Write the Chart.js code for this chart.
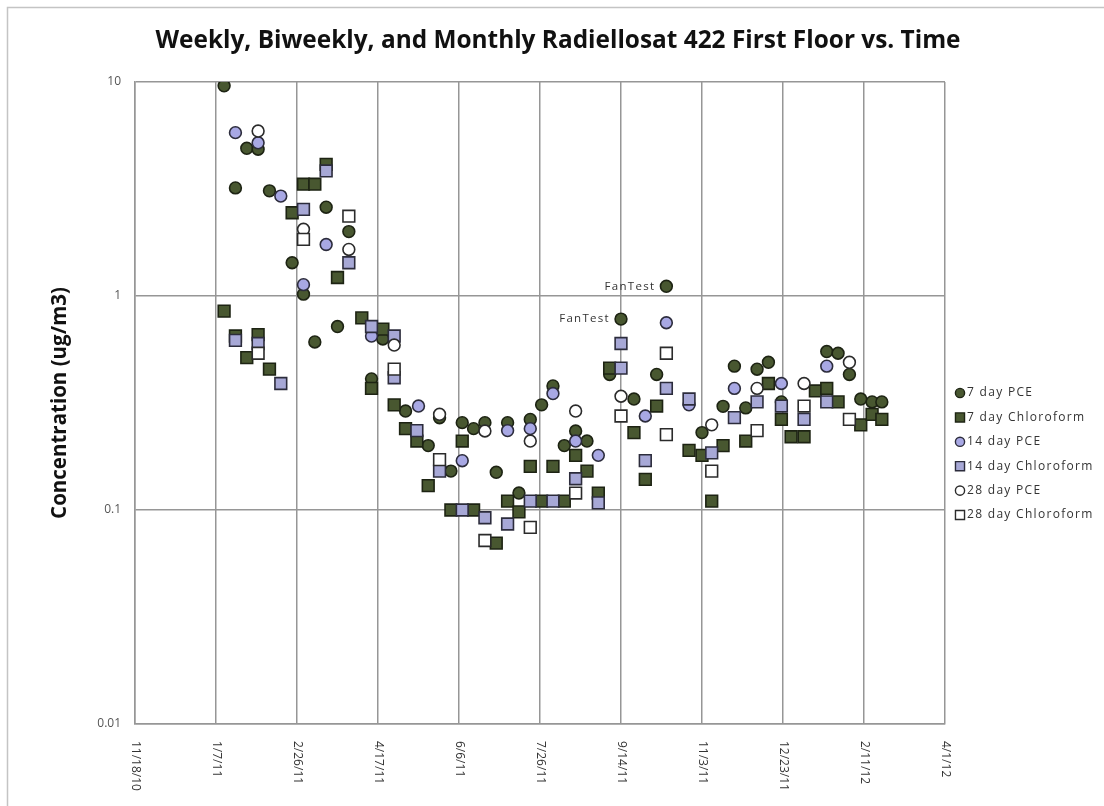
<!DOCTYPE html>
<html>
<head>
<meta charset="utf-8">
<title>Radiellos at 422 First Floor vs. Time</title>
<script src="https://cdn.jsdelivr.net/npm/chart.js@4.4.1/dist/chart.umd.min.js"></script>
<style>
    html, body { margin: 0; padding: 0; background: #fff; }
    #wrap { width: 1104px; height: 806px; }
</style>
</head>
<body>
<div id="wrap"><canvas id="radChart" width="1104" height="806"></canvas></div>
<script>
'use strict';

// 日付は Excel のシリアル値（40500 = 11/18/10）
// 7日間 PCE
const pce7Dates = [40555, 40562, 40569, 40576, 40583, 40597, 40604, 40611, 40618, 40625, 40632, 40646, 40653, 40667, 40681, 40688,
    40695, 40702, 40709, 40716, 40723, 40730, 40737, 40744, 40751, 40758, 40765, 40772, 40779, 40793, 40800, 40808,
    40822, 40828, 40850, 40863, 40870, 40877, 40884, 40891, 40899, 40927, 40934, 40941, 40948, 40955, 40961];
const pce7Values = [9.6, 3.2, 4.9, 4.85, 3.1, 1.43, 1.02, 0.61, 2.6, 0.72, 2.0, 0.41, 0.63, 0.29, 0.20, 0.27,
    0.152, 0.256, 0.24, 0.256, 0.15, 0.256, 0.12, 0.265, 0.31, 0.38, 0.20, 0.234, 0.21, 0.43, 0.78, 0.33,
    0.43, 1.11, 0.23, 0.305, 0.47, 0.30, 0.455, 0.49, 0.32, 0.55, 0.54, 0.43, 0.33, 0.32, 0.32];
// 7日間 クロロホルム
const chl7Dates = [40555, 40562, 40569, 40576, 40583, 40597, 40604, 40611, 40618, 40625, 40640, 40646, 40653, 40660, 40667, 40674,
    40681, 40695, 40702, 40709, 40723, 40730, 40737, 40744, 40751, 40758, 40765, 40772, 40779, 40786, 40793, 40808,
    40815, 40822, 40842, 40850, 40856, 40863, 40877, 40891, 40899, 40905, 40913, 40920, 40927, 40934, 40948, 40955, 40961];
const chl7Values = [0.85, 0.65, 0.515, 0.66, 0.455, 2.45, 3.33, 3.33, 4.12, 1.22, 0.79, 0.37, 0.70, 0.31, 0.24, 0.21,
    0.13, 0.10, 0.21, 0.10, 0.07, 0.11, 0.098, 0.16, 0.11, 0.16, 0.11, 0.18, 0.152, 0.12, 0.46, 0.23,
    0.139, 0.306, 0.19, 0.18, 0.11, 0.20, 0.21, 0.39, 0.265, 0.22, 0.22, 0.36, 0.37, 0.32, 0.25, 0.28, 0.265];
// 14日間 PCE
const pce14Dates = [40562, 40576, 40590, 40604, 40618, 40646, 40675, 40702, 40730, 40744, 40758, 40772, 40786, 40815, 40828, 40842,
    40870, 40899, 40927];
const pce14Values = [5.8, 5.2, 2.93, 1.13, 1.74, 0.65, 0.306, 0.17, 0.235, 0.24, 0.35, 0.21, 0.18, 0.275, 0.75, 0.31,
    0.37, 0.39, 0.47];
// 14日間 クロロホルム
const chl14Dates = [40562, 40576, 40590, 40604, 40618, 40632, 40646, 40660, 40660, 40674, 40688, 40702, 40716, 40730, 40744, 40758,
    40772, 40786, 40800, 40800, 40815, 40828, 40842, 40856, 40870, 40884, 40899, 40913, 40927];
const chl14Values = [0.62, 0.60, 0.39, 2.54, 3.84, 1.43, 0.72, 0.65, 0.415, 0.235, 0.152, 0.10, 0.092, 0.086, 0.11, 0.11,
    0.14, 0.108, 0.60, 0.46, 0.17, 0.37, 0.33, 0.185, 0.27, 0.32, 0.306, 0.265, 0.32];
// 28日間 PCE
const pce28Dates = [40576, 40604, 40632, 40660, 40688, 40716, 40744, 40772, 40800, 40856, 40884, 40913, 40941];
const pce28Values = [5.9, 2.05, 1.65, 0.59, 0.28, 0.234, 0.21, 0.29, 0.34, 0.25, 0.37, 0.39, 0.49];
// 28日間 クロロホルム
const chl28Dates = [40576, 40604, 40632, 40660, 40688, 40716, 40744, 40772, 40800, 40828, 40828, 40856, 40884, 40913, 40941];
const chl28Values = [0.54, 1.84, 2.36, 0.455, 0.172, 0.072, 0.083, 0.12, 0.275, 0.54, 0.225, 0.152, 0.235, 0.306, 0.265];

// 凡例ラベル
const seriesLabels = ['7 day PCE', '7 day Chloroform', '14 day PCE', '14 day Chloroform', '28 day PCE', '28 day Chloroform'];
// 軸の目盛
const xTickValues = [40500, 40550, 40600, 40650, 40700, 40750, 40800, 40850, 40900, 40950, 41000];
const xTickLabels = ['11/18/10', '1/7/11', '2/26/11', '4/17/11', '6/6/11', '7/26/11', '9/14/11', '11/3/11', '12/23/11', '2/11/12', '4/1/12'];
const yTickValues = [0.01, 0.1, 1, 10];
const yTickLabels = ['0.01', '0.1', '1', '10'];
// "FanTest" の注記を付ける 7日間 PCE の日付
const fanTestDates = [40800, 40828];
// グラフタイトル
const chartTitle = 'Weekly, Biweekly, and Monthly Radiellosat 422 First Floor vs. Time';

const FONT = '"Open Sans", "DejaVu Sans", sans-serif';
const GRID_COLOR = '#969696';
const DARK = '#485730';
const DARK_EDGE = '#1d2313';

/**
 * 散布図のデータセット生成
 * 後の系列ほど上に描く（Excel と同じ重なり順）
 */
function createSeries(index, dates, values, shape, fill, edge) {
    return {
        label: seriesLabels[index],
        data: dates.map((d, i) => ({ x: d, y: values[i] })),
        order: seriesLabels.length - index,
        pointStyle: shape,
        pointRadius: shape === 'rect' ? 8.3 : 5.9,
        pointHoverRadius: shape === 'rect' ? 8.3 : 5.9,
        backgroundColor: fill,
        borderColor: edge,
        pointBorderWidth: 1.6,
        showLine: false
    };
}

const datasets = [
    createSeries(0, pce7Dates, pce7Values, 'circle', DARK, DARK_EDGE),
    createSeries(1, chl7Dates, chl7Values, 'rect', DARK, DARK_EDGE),
    createSeries(2, pce14Dates, pce14Values, 'circle', '#a8a8e4', '#2c2c3c'),
    createSeries(3, chl14Dates, chl14Values, 'rect', '#a7a8d6', '#2c2c3c'),
    createSeries(4, pce28Dates, pce28Values, 'circle', '#ffffff', '#2b2b2b'),
    createSeries(5, chl28Dates, chl28Values, 'rect', '#ffffff', '#2b2b2b')
];

// 外枠・タイトル・縦書きの日付目盛・凡例・注記を描くプラグイン
const decorPlugin = {
    id: 'decor',
    beforeDraw(chart) {
        const ctx = chart.ctx;
        ctx.save();
        ctx.fillStyle = '#fff';
        ctx.fillRect(0, 0, chart.width, chart.height);
        ctx.strokeStyle = '#c4c4c4';
        ctx.lineWidth = 1.5;
        ctx.strokeRect(7.5, 7.5, chart.width + 20, chart.height + 20);
        ctx.restore();
    },
    afterDraw(chart) {
        const ctx = chart.ctx;
        const xScale = chart.scales.x;
        ctx.save();
        // タイトル
        ctx.font = 'bold 24.4px ' + FONT;
        ctx.fillStyle = '#111';
        ctx.textAlign = 'center';
        ctx.textBaseline = 'middle';
        ctx.fillText(chartTitle, 558, 41);
        // 日付目盛（時計回りに90度）
        ctx.font = '12px ' + FONT;
        ctx.fillStyle = '#333';
        ctx.textAlign = 'left';
        xTickValues.forEach((v, i) => {
            ctx.save();
            ctx.translate(xScale.getPixelForValue(v), xScale.top + 17);
            ctx.rotate(Math.PI / 2);
            ctx.fillText(xTickLabels[i], 0, 0);
            ctx.restore();
        });
        // FanTest 注記
        const meta = chart.getDatasetMeta(0);
        ctx.font = '11.5px ' + FONT;
        ctx.letterSpacing = '1.3px';
        ctx.textAlign = 'right';
        fanTestDates.forEach(d => {
            const pt = meta.data[pce7Dates.indexOf(d)];
            ctx.fillText('FanTest', pt.x - 11, pt.y);
        });
        // 凡例
        ctx.font = '12px ' + FONT;
        ctx.textAlign = 'left';
        chart.data.datasets.forEach((ds, i) => {
            const y = 393 + i * 24.4;
            ctx.fillStyle = ds.backgroundColor;
            ctx.strokeStyle = ds.borderColor;
            ctx.lineWidth = 1.4;
            Chart.helpers.drawPoint(ctx, {
                pointStyle: ds.pointStyle,
                radius: ds.pointStyle === 'rect' ? 6.4 : 4.6,
                rotation: 0,
                borderWidth: 1.4
            }, 960, y);
            ctx.fillStyle = '#333';
            ctx.fillText(ds.label, 967, y);
        });
        ctx.restore();
    }
};

const radChart = new Chart(document.getElementById('radChart'), {
    type: 'scatter',
    data: { datasets: datasets },
    plugins: [decorPlugin],
    options: {
        responsive: false,
        animation: false,
        events: [],
        layout: { padding: { left: 13, right: 159, top: 82, bottom: 0 } },
        plugins: {
            legend: { display: false },
            tooltip: { enabled: false },
            title: { display: false }
        },
        scales: {
            x: {
                type: 'linear',
                min: 40500,
                max: 41000,
                afterBuildTicks: scale => { scale.ticks = xTickValues.map(v => ({ value: v })); },
                afterFit: scale => { scale.height = 82; },
                grid: { color: GRID_COLOR, lineWidth: 1.5, drawTicks: false },
                border: { color: GRID_COLOR, width: 1.5 },
                ticks: { display: false }
            },
            y: {
                type: 'logarithmic',
                min: 0.01,
                max: 10,
                afterBuildTicks: scale => { scale.ticks = yTickValues.map(v => ({ value: v })); },
                afterFit: scale => { scale.width = 122; },
                grid: { color: GRID_COLOR, lineWidth: 1.5, drawTicks: false },
                border: { color: GRID_COLOR, width: 1.5 },
                ticks: {
                    padding: 14,
                    color: '#555',
                    font: { family: FONT, size: 12 },
                    callback: (value, index) => yTickLabels[index]
                },
                title: {
                    display: true,
                    text: 'Concentration (ug/m3)',
                    color: '#111',
                    font: { family: FONT, size: 20.5, weight: 'bold', lineHeight: 1.2 },
                    padding: { top: 35, bottom: 0 }
                }
            }
        }
    }
});
</script>
</body>
</html>
